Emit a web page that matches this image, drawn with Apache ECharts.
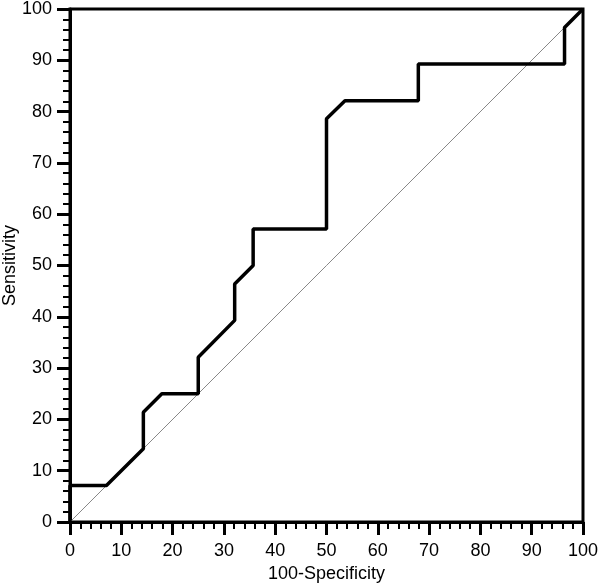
<!DOCTYPE html>
<html>
<head>
<meta charset="utf-8">
<title>ROC curve</title>
<script src="https://cdn.jsdelivr.net/npm/echarts@6/dist/echarts.min.js"></script>
<style>
  html, body { margin: 0; padding: 0; background: #fff; }
  #rocChart { width: 600px; height: 583px; }
</style>
</head>
<body>
<div id="rocChart"></div>
<script>
// ROC curve points (100-Specificity, Sensitivity)
var specValues = [0, 0, 7.1, 14.3, 14.3, 17.9, 25, 25, 32.1, 32.1, 35.7, 35.7, 50, 50, 53.6, 67.9, 67.9, 96.4, 96.4, 100];
var sensValues = [0, 7.1, 7.1, 14.3, 21.4, 25, 25, 32.1, 39.3, 46.4, 50, 57.1, 57.1, 78.6, 82.1, 82.1, 89.3, 89.3, 96.4, 100];
// reference diagonal
var diagX = [0, 100];
var diagY = [0, 100];

var xName = '100-Specificity';
var yName = 'Sensitivity';

function pairs(xs, ys) {
  return xs.map(function (x, i) { return [x, ys[i]]; });
}

var axisCommon = {
  type: 'value',
  min: 0,
  max: 100,
  interval: 10,
  nameLocation: 'middle',
  nameMoveOverlap: false,
  nameTextStyle: { color: '#000', fontSize: 18, fontFamily: 'Liberation Sans' },
  axisLine: { show: true, lineStyle: { color: '#000', width: 3 } },
  axisTick: { show: true, inside: false, length: 13, lineStyle: { color: '#000', width: 3 } },
  minorTick: { show: true, splitNumber: 5, length: 7, lineStyle: { color: '#000', width: 2 } },
  axisLabel: { color: '#000', fontSize: 18, fontFamily: 'Liberation Sans', margin: 18 },
  splitLine: { show: false }
};

var chart = echarts.init(document.getElementById('rocChart'));
chart.setOption({
  animation: false,
  backgroundColor: '#fff',
  grid: {
    left: 70, right: 17, top: 9, bottom: 61,
    containLabel: false, outerBoundsMode: 'none',
    show: true, borderColor: '#000', borderWidth: 3, backgroundColor: 'transparent'
  },
  xAxis: Object.assign({}, axisCommon, { name: xName, nameGap: 43, axisLabel: Object.assign({}, axisCommon.axisLabel, { margin: 20 }) }),
  yAxis: Object.assign({}, axisCommon, { name: yName, nameGap: 51 }),
  series: [
    {
      name: 'diagonal',
      type: 'line',
      data: pairs(diagX, diagY),
      symbol: 'none',
      lineStyle: { color: '#888', width: 1 },
      z: 2
    },
    {
      name: 'ROC',
      type: 'line',
      data: pairs(specValues, sensValues),
      symbol: 'none',
      lineStyle: { color: '#000', width: 3.5 },
      z: 3
    }
  ]
});
</script>
</body>
</html>
